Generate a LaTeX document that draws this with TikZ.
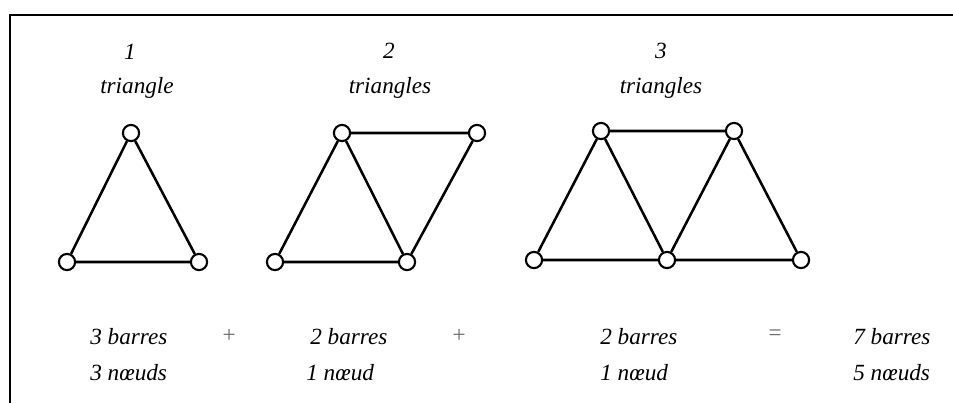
\documentclass[tikz,border=0pt]{standalone}
\usepackage{fontspec}
\setmainfont{Liberation Serif}
\usepackage{tikz}
\usetikzlibrary{positioning}

\begin{document}
\begin{tikzpicture}[x=0.025cm,y=-0.025cm,
    knot/.style={draw,circle,fill=white,line width=1.5pt,inner sep=0pt,minimum size=11.5pt},
    bar/.style={line width=1.8pt},
    lbl/.style={font=\fontsize{16.5}{20}\selectfont\itshape,inner sep=0pt}]
  \useasboundingbox (0,0) rectangle (953,403);
  %% frame
  \coordinate (fbl) at (10,403);
  \coordinate (ftl) at (10,15);
  \coordinate (ftr) at (953,15);
  \draw[line width=1.5pt] (fbl) -- (ftl) -- (ftr);

  %% titles
  \node[lbl,anchor=base] (n1) at (130,59) {1};
  \node[lbl,anchor=base] (t1) at (137,93) {triangle};
  \node[lbl,anchor=base] (n2) at (389,58) {2};
  \node[lbl,anchor=base] (t2) at (390,93) {triangles};
  \node[lbl,anchor=base] (n3) at (661,58) {3};
  \node[lbl,anchor=base] (t3) at (661,93) {triangles};

  %% first truss
  \node[knot] (a1) at (131,133) {};
  \node[knot] (a2) at (67,262) {};
  \node[knot] (a3) at (199,262) {};
  \draw[bar] (a1) -- (a2) (a2) -- (a3) (a3) -- (a1);

  %% second truss
  \node[knot] (b1) at (342,133) {};
  \node[knot] (b2) at (477,133) {};
  \node[knot] (b3) at (275,262) {};
  \node[knot] (b4) at (407,262) {};
  \draw[bar] (b1) -- (b3) (b3) -- (b4) (b4) -- (b1)
             (b1) -- (b2) (b2) -- (b4);

  %% third truss
  \node[knot] (c1) at (601,131) {};
  \node[knot] (c2) at (734,131) {};
  \node[knot] (c3) at (534,260) {};
  \node[knot] (c4) at (667,260) {};
  \node[knot] (c5) at (801,260) {};
  \draw[bar] (c1) -- (c3) (c3) -- (c4) (c4) -- (c1)
             (c1) -- (c2) (c2) -- (c4) (c4) -- (c5) (c5) -- (c2);

  %% counts
  \node[lbl,anchor=base west] (s1) at (90,344) {3 barres};
  \node[lbl,anchor=base west] (k1) at (90,380) {3 nœuds};
  \node[lbl,text=black!60] (p1) at (229,336) {+};
  \node[lbl,anchor=base west] (s2) at (310,344) {2 barres};
  \node[lbl,anchor=base west] (k2) at (306,380) {1 nœud};
  \node[lbl,text=black!60] (p2) at (459,336) {+};
  \node[lbl,anchor=base west] (s3) at (600,344) {2 barres};
  \node[lbl,anchor=base west] (k3) at (600,380) {1 nœud};
  \node[lbl,text=black!60] (eq) at (775,335) {=};
  \node[lbl,anchor=base west] (s4) at (853,344) {7 barres};
  \node[lbl,anchor=base west] (k4) at (853,380) {5 nœuds};
\end{tikzpicture}
\end{document}
